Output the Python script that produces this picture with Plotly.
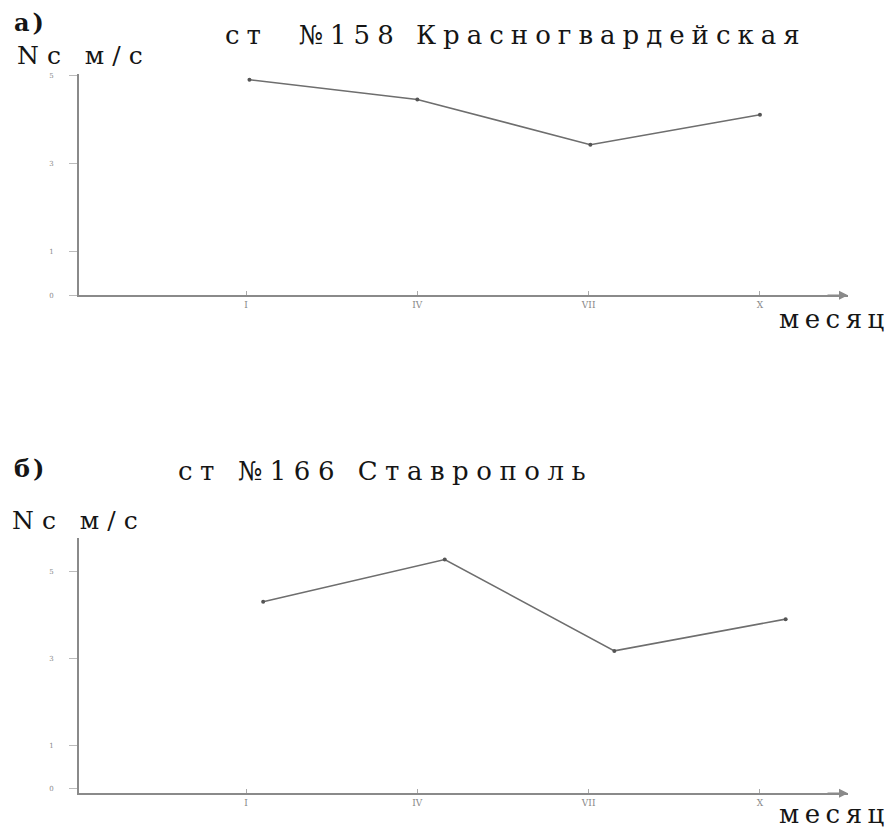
import plotly.graph_objects as go

# ---- data ----
months = ["I", "IV", "VII", "X"]
month_pos = [1, 2, 3, 4]
y_ticks = [0, 1, 3, 5]

top_x = [1.02, 2.0, 3.01, 4.0]
top_vals = [4.91, 4.46, 3.43, 4.11]

bot_x = [1.10, 2.16, 3.15, 4.15]
bot_vals = [4.30, 5.27, 3.17, 3.90]

W, H = 895, 830
SERIF = "DejaVu Serif"
LINE_C = "#6e6e6e"
AX_C = "#8a8a8a"
TXT_C = "#151515"

fig = go.Figure()
fig.add_trace(go.Scatter(x=top_x, y=top_vals, mode="lines+markers",
                         line=dict(color=LINE_C, width=1.6),
                         marker=dict(size=4, color="#555"),
                         xaxis="x", yaxis="y", showlegend=False))
fig.add_trace(go.Scatter(x=bot_x, y=bot_vals, mode="lines+markers",
                         line=dict(color=LINE_C, width=1.6),
                         marker=dict(size=4, color="#555"),
                         xaxis="x2", yaxis="y2", showlegend=False))


def px_x(p):
    return p / W


def px_y(p):
    return 1 - p / H


xdom = [px_x(79), px_x(848)]
common_x = dict(range=[0.025, 4.514], tickmode="array", tickvals=month_pos,
                ticktext=months, showline=True, linecolor=AX_C, linewidth=2,
                ticks="inside", ticklen=4, tickcolor="#aaa", showgrid=False,
                zeroline=False, tickfont=dict(family=SERIF, size=9, color="#888"),
                domain=xdom)
common_y = dict(tickmode="array", tickvals=y_ticks, showline=True,
                linecolor=AX_C, linewidth=2, ticks="outside", ticklen=8,
                tickcolor="#bbb", showgrid=False, zeroline=False,
                tickfont=dict(family=SERIF, size=7, color="#888"),
                ticklabelstandoff=14)

fig.update_layout(
    width=W, height=H, autosize=False,
    margin=dict(l=0, r=0, t=0, b=0),
    paper_bgcolor="white", plot_bgcolor="white",
    xaxis=dict(common_x, anchor="y"),
    yaxis=dict(common_y, range=[0, 5.05], domain=[px_y(296), px_y(73)], anchor="x"),
    xaxis2=dict(common_x, anchor="y2"),
    yaxis2=dict(common_y, range=[-0.1, 5.77], domain=[px_y(797), px_y(540)], anchor="x2"),
)

# arrows at the end of the x axes
for xr, yr, y0 in (("x", "y", 0), ("x2", "y2", -0.1)):
    fig.add_annotation(x=4.514, y=y0, xref=xr, yref=yr, ax=-22, ay=0,
                       showarrow=True, arrowhead=2, arrowsize=1.2,
                       arrowwidth=1.5, arrowcolor=AX_C, text="")


def label(text, x, y, size, ls=0, bold=False):
    t = text
    if bold:
        t = "<b>" + t + "</b>"
    if ls:
        t = '<span style="letter-spacing:%spx">%s</span>' % (ls, t)
    fig.add_annotation(x=px_x(x), y=px_y(y), xref="paper", yref="paper",
                       xanchor="left", yanchor="middle", showarrow=False,
                       text=t, font=dict(family=SERIF, size=size, color=TXT_C))


label("а)", 12, 22, 24, 3, bold=True)
label("ст  №158 Красногвардейская", 223, 34, 26, 7)
label("Nc м/с", 15, 55, 25, 8)
label("месяц", 777, 320, 26, 5.5)

label("б)", 12, 470, 24, 3, bold=True)
label("ст №166 Ставрополь", 176, 473, 26, 7.5)
label("Nc м/с", 10, 523, 25, 8)
label("месяц", 777, 818, 26, 5.5)

fig.write_html("out.html", config={"displayModeBar": False}, post_script=(
    "document.body.style.margin='0';"
    "document.body.style.overflow='hidden';"))
